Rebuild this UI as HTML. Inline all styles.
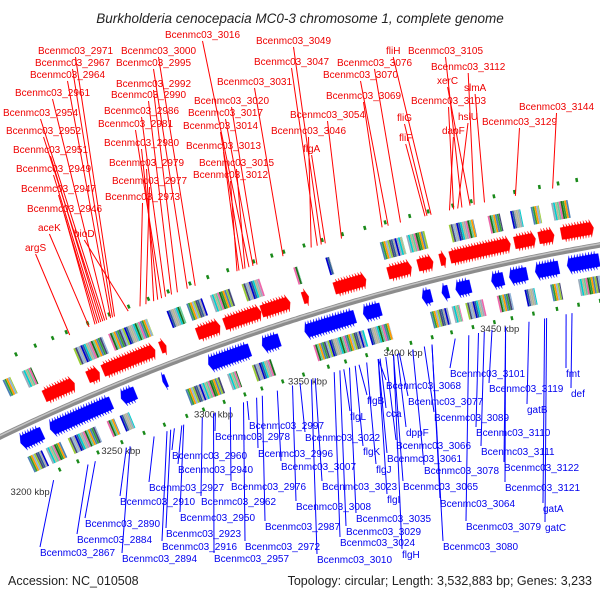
<!DOCTYPE html>
<html><head><meta charset="utf-8">
<style>
html,body{margin:0;padding:0;background:#fff;}
svg{display:block;font-family:"Liberation Sans","DejaVu Sans",sans-serif;}
</style></head>
<body>
<svg id="chart" width="600" height="600" viewBox="0 0 600 600" xmlns="http://www.w3.org/2000/svg">
<text x="300" y="23" text-anchor="middle" font-size="13.5" font-style="italic" fill="#222">Burkholderia cenocepacia MC0-3 chromosome 1, complete genome</text>
<text x="8" y="585" font-size="12.5" fill="#222">Accession: NC_010508</text>
<text x="592" y="585" text-anchor="end" font-size="12.5" fill="#222">Topology: circular; Length: 3,532,883 bp; Genes: 3,233</text>
<g id="features"></g>
<g id="labels"></g>
</svg>
<script>
// ---- data ----
const tickKbp = [3200, 3250, 3300, 3350, 3400, 3450];
const tickLabels = ["3200 kbp", "3250 kbp", "3300 kbp", "3350 kbp", "3400 kbp", "3450 kbp"];
const redSegs = [[3226,3243],[3249,3256],[3257,3285],[3287,3290],[3306,3318],[3320,3339],[3339,3354],[3360,3363],[3376,3393],[3403,3416],[3418,3426],[3429,3432],[3434,3464],[3466,3477],[3478,3486],[3489,3506]];
const blueSegs = [[3206,3219],[3222,3256],[3260,3268],[3282,3284],[3306,3328],[3334,3344],[3356,3383],[3386,3396],[3416,3422],[3426,3430],[3433,3441],[3451,3458],[3460,3470],[3473,3486],[3489,3506]];
const outerBoxes = [[3211,3215],[3221,3226],[3248,3263],[3266,3286],[3296,3303],[3306,3314],[3318,3328],[3334,3343],[3360,3362],[3376,3378],[3403,3414],[3416,3425],[3437,3449],[3456,3462],[3467,3472],[3477,3481],[3487,3495]];
const innerBoxes = [[3206,3214],[3216,3224],[3228,3243],[3249,3253],[3256,3261],[3291,3309],[3313,3318],[3326,3336],[3358,3384],[3386,3397],[3418,3427],[3429,3433],[3436,3445],[3452,3459],[3466,3471],[3479,3484],[3493,3504]];
const greenOuter = [3222,3232,3241,3248,3259,3270,3280,3290,3300,3311,3320,3330,3343,3352,3358,3368,3377,3387,3398,3408,3420,3429,3441,3450,3461,3471,3483,3492,3501];
const greenInner = [3218,3228,3239,3252,3264,3275,3287,3296,3307,3318,3327,3338,3349,3362,3371,3382,3393,3405,3416,3426,3437,3448,3457,3468,3480,3491,3502];
const redNames = ["argS","aceK","Bcenmc03_2946","Bcenmc03_2947","Bcenmc03_2949","Bcenmc03_2951","Bcenmc03_2952","Bcenmc03_2954","Bcenmc03_2961","Bcenmc03_2964","Bcenmc03_2967","Bcenmc03_2971","bioD","Bcenmc03_2973","Bcenmc03_2977","Bcenmc03_2979","Bcenmc03_2980","Bcenmc03_2981","Bcenmc03_2986","Bcenmc03_2990","Bcenmc03_2992","Bcenmc03_2995","Bcenmc03_3000","Bcenmc03_3012","Bcenmc03_3013","Bcenmc03_3014","Bcenmc03_3015","Bcenmc03_3016","Bcenmc03_3017","Bcenmc03_3020","Bcenmc03_3031","Bcenmc03_3046","Bcenmc03_3047","Bcenmc03_3049","flgA","Bcenmc03_3054","Bcenmc03_3069","Bcenmc03_3070","Bcenmc03_3076","fliF","fliG","fliH","dapF","Bcenmc03_3103","hslU","Bcenmc03_3105","xerC","Bcenmc03_3112","slmA","Bcenmc03_3129","Bcenmc03_3144"];
const redKbp = [3249,3259,3262,3263,3264,3265,3266,3267,3268,3270,3271,3272,3279,3285,3288,3292,3294,3296,3298,3301,3304,3309,3313,3334,3335,3337,3338,3340,3342,3344,3357,3371,3374,3376,3378,3386,3406,3409,3415,3427,3428,3430,3439,3441,3443,3445,3449,3451,3456,3471,3489];
const redLabelX = [25,38,27,21,16,13,6,3,15,30,35,38,74,105,112,109,104,98,104,111,116,116,121,193,186,183,199,165,188,194,217,271,254,256,303,290,326,323,337,399,397,386,442,411,458,408,437,431,464,482,519];
const redLabelY = [251,231,212,192,172,153,134,116,96,78,66,54,237,200,184,166,146,127,114,98,87,66,54,178,149,129,166,38,116,104,85,134,65,44,152,118,99,78,66,141,121,54,134,104,120,54,84,70,91,125,110];
const blueNames = ["fmt","def","Bcenmc03_3101","Bcenmc03_3119","Bcenmc03_3068","flgB","Bcenmc03_3077","cca","gatB","flgL","Bcenmc03_3089","dppF","Bcenmc03_3110","Bcenmc03_2997","Bcenmc03_2978","Bcenmc03_3022","Bcenmc03_3066","Bcenmc03_3111","flgK","Bcenmc03_2960","Bcenmc03_2996","Bcenmc03_3061","Bcenmc03_3122","Bcenmc03_2940","Bcenmc03_3007","flgJ","Bcenmc03_3078","Bcenmc03_3121","Bcenmc03_2927","Bcenmc03_2976","Bcenmc03_3023","Bcenmc03_3065","Bcenmc03_2910","Bcenmc03_2962","flgI","Bcenmc03_3064","gatA","Bcenmc03_2890","Bcenmc03_2950","Bcenmc03_3008","Bcenmc03_3035","Bcenmc03_3029","Bcenmc03_2923","Bcenmc03_2987","Bcenmc03_3079","gatC","Bcenmc03_2884","Bcenmc03_2916","Bcenmc03_2972","Bcenmc03_3024","flgH","Bcenmc03_3080","Bcenmc03_2867","Bcenmc03_2894","Bcenmc03_2957","Bcenmc03_3010"];
const blueKbp = [3484,3487,3427,3446,3387,3377,3398,3388,3465,3369,3411,3397,3439,3318,3301,3346,3391,3442,3375,3279,3323,3387,3453,3283,3334,3381,3405,3453,3268,3309,3354,3395,3253,3294,3387,3415,3473,3236,3284,3342,3372,3367,3277,3326,3434,3474,3232,3275,3316,3364,3395,3415,3213,3255,3300,3352];
const blueLabelX = [566,571,450,489,386,367,408,386,527,350,434,406,476,249,215,305,396,481,363,172,258,387,504,178,281,376,424,505,149,231,322,403,120,201,387,440,543,85,180,296,356,346,166,265,466,545,77,162,245,340,402,443,40,122,214,317];
const blueLabelY = [377,397,377,392,389,404,405,417,413,420,421,436,436,429,440,441,449,455,455,459,457,462,471,473,470,473,474,491,491,490,490,490,505,505,503,507,512,527,521,510,522,535,537,530,530,531,543,550,550,546,558,550,556,562,562,563];

// ---- geometry / axis ----
const CX = 986, CY = 2486, R = 2274, PHI0 = -1.8825, K = 0.000901;
function pt(kbp, off){ const a = PHI0 + (kbp-3350)*K; return [CX+(R+off)*Math.cos(a), CY+(R+off)*Math.sin(a)]; }
const NS = "http://www.w3.org/2000/svg";
const feat = document.getElementById('features');
const labs = document.getElementById('labels');
function mk(tag, attrs, parent){ const e=document.createElementNS(NS,tag); for(const k in attrs) e.setAttribute(k,attrs[k]); parent.appendChild(e); return e; }
function poly(points){ return points.map(p=>p[0].toFixed(1)+','+p[1].toFixed(1)).join(' '); }

// backbone
let d = '';
for(let k=3170;k<=3520;k+=2){ const p=pt(k,0); d += (k===3170?'M':'L')+p[0].toFixed(1)+','+p[1].toFixed(1); }
const bb = mk('path',{d:d,fill:'none',stroke:'#8c8c8c','stroke-width':5.5},feat);


const bb2 = mk('path',{d:d,fill:'none',stroke:'#c4c4c4','stroke-width':1.5,transform:'translate(0,-1.2)'},feat);



const palette = ['#4a7fb5','#8fb3d9','#2e5f95','#9aabbb','#66cc99','#33a033','#99cc33','#aaaaaa','#00cccc','#ee66aa','#ff9900','#444477','#0000cc','#b8b890','#1a6d1a'];

function drawBoxes(list, o1, o2, nm){
  list.forEach((seg,si)=>{
    let i=0;
    for(let k=seg[0]; k<seg[1]; k+=0.9, i++){
      const k2=Math.min(k+0.85,seg[1]);
      const c = palette[(si*3+i*5+Math.floor(i/3))%palette.length];
      const p = mk('polygon',{points:poly([pt(k,o1),pt(k2,o1),pt(k2,o2),pt(k,o2)]),fill:c,stroke:'none'},feat);
      
      
    }
  });
}
drawBoxes(outerBoxes,32,50,'outer-feature-box');
drawBoxes(innerBoxes,-30,-47,'inner-feature-box');

function drawArrows(segs, dir, color, nm){
  const L=3.4, step=1.4;
  segs.forEach(seg=>{
    const len = seg[1]-seg[0];
    for(let k=seg[0]; k+Math.min(L,len)<=seg[1]+0.01; k+=step){
      const l=Math.min(L,len);
      let pts;
      if(dir>0){
        const a=k, m=k+l*0.5, t=k+l;
        pts=[pt(a,12),pt(m,12),pt(m,9),pt(t,18),pt(m,27),pt(m,24),pt(a,24)];
      } else {
        const a=k+l, m=k+l*0.5, t=k;
        pts=[pt(a,-8),pt(m,-8),pt(m,-5),pt(t,-14.5),pt(m,-24),pt(m,-21),pt(a,-21)];
      }
      const p = mk('polygon',{points:poly(pts),fill:color,stroke:color,'stroke-width':0.3},feat);
      
      
      if(len<L) break;
    }
  });
}
drawArrows(redSegs,1,'#ff0000','forward-gene-arrow');
drawArrows(blueSegs,-1,'#0000ff','reverse-gene-arrow');

function drawGreen(list, o, nm){
  list.forEach(k=>{
    const p = mk('polygon',{points:poly([pt(k-0.6,o),pt(k+0.6,o),pt(k+0.6,o+4),pt(k-0.6,o+4)]),fill:'#1a8a1a'},feat);
    
    
  });
}
drawGreen(greenOuter,66,'outer-marker');
drawGreen(greenInner,-57,'inner-marker');

tickKbp.forEach((k,i)=>{
  const p = pt(k,-62);
  const t = mk('text',{x:p[0].toFixed(1),y:(p[1]+4).toFixed(1),'text-anchor':'middle','font-size':9.5,fill:'#333'},labs);
  t.textContent = tickLabels[i];
  
  
});

redNames.forEach((n,i)=>{
  const t = mk('text',{x:redLabelX[i],y:redLabelY[i],'font-size':10,fill:'#ee0000'},labs);
  t.textContent = n;
  
  
  const w = t.getComputedTextLength();
  const e = pt(redKbp[i],64);
  const ln = mk('line',{x1:(redLabelX[i]+w/2).toFixed(1),y1:redLabelY[i]+3,x2:e[0].toFixed(1),y2:e[1].toFixed(1),stroke:'#ff0000','stroke-width':1},labs);
  
  
});

blueNames.forEach((n,i)=>{
  const t = mk('text',{x:blueLabelX[i],y:blueLabelY[i],'font-size':10,fill:'#0000ee'},labs);
  t.textContent = n;
  
  
  const s = pt(blueKbp[i],-62);
  const ln = mk('line',{x1:s[0].toFixed(1),y1:s[1].toFixed(1),x2:blueLabelX[i],y2:blueLabelY[i]-9,stroke:'#0000ff','stroke-width':1},labs);
  
  
});
</script>
</body></html>
